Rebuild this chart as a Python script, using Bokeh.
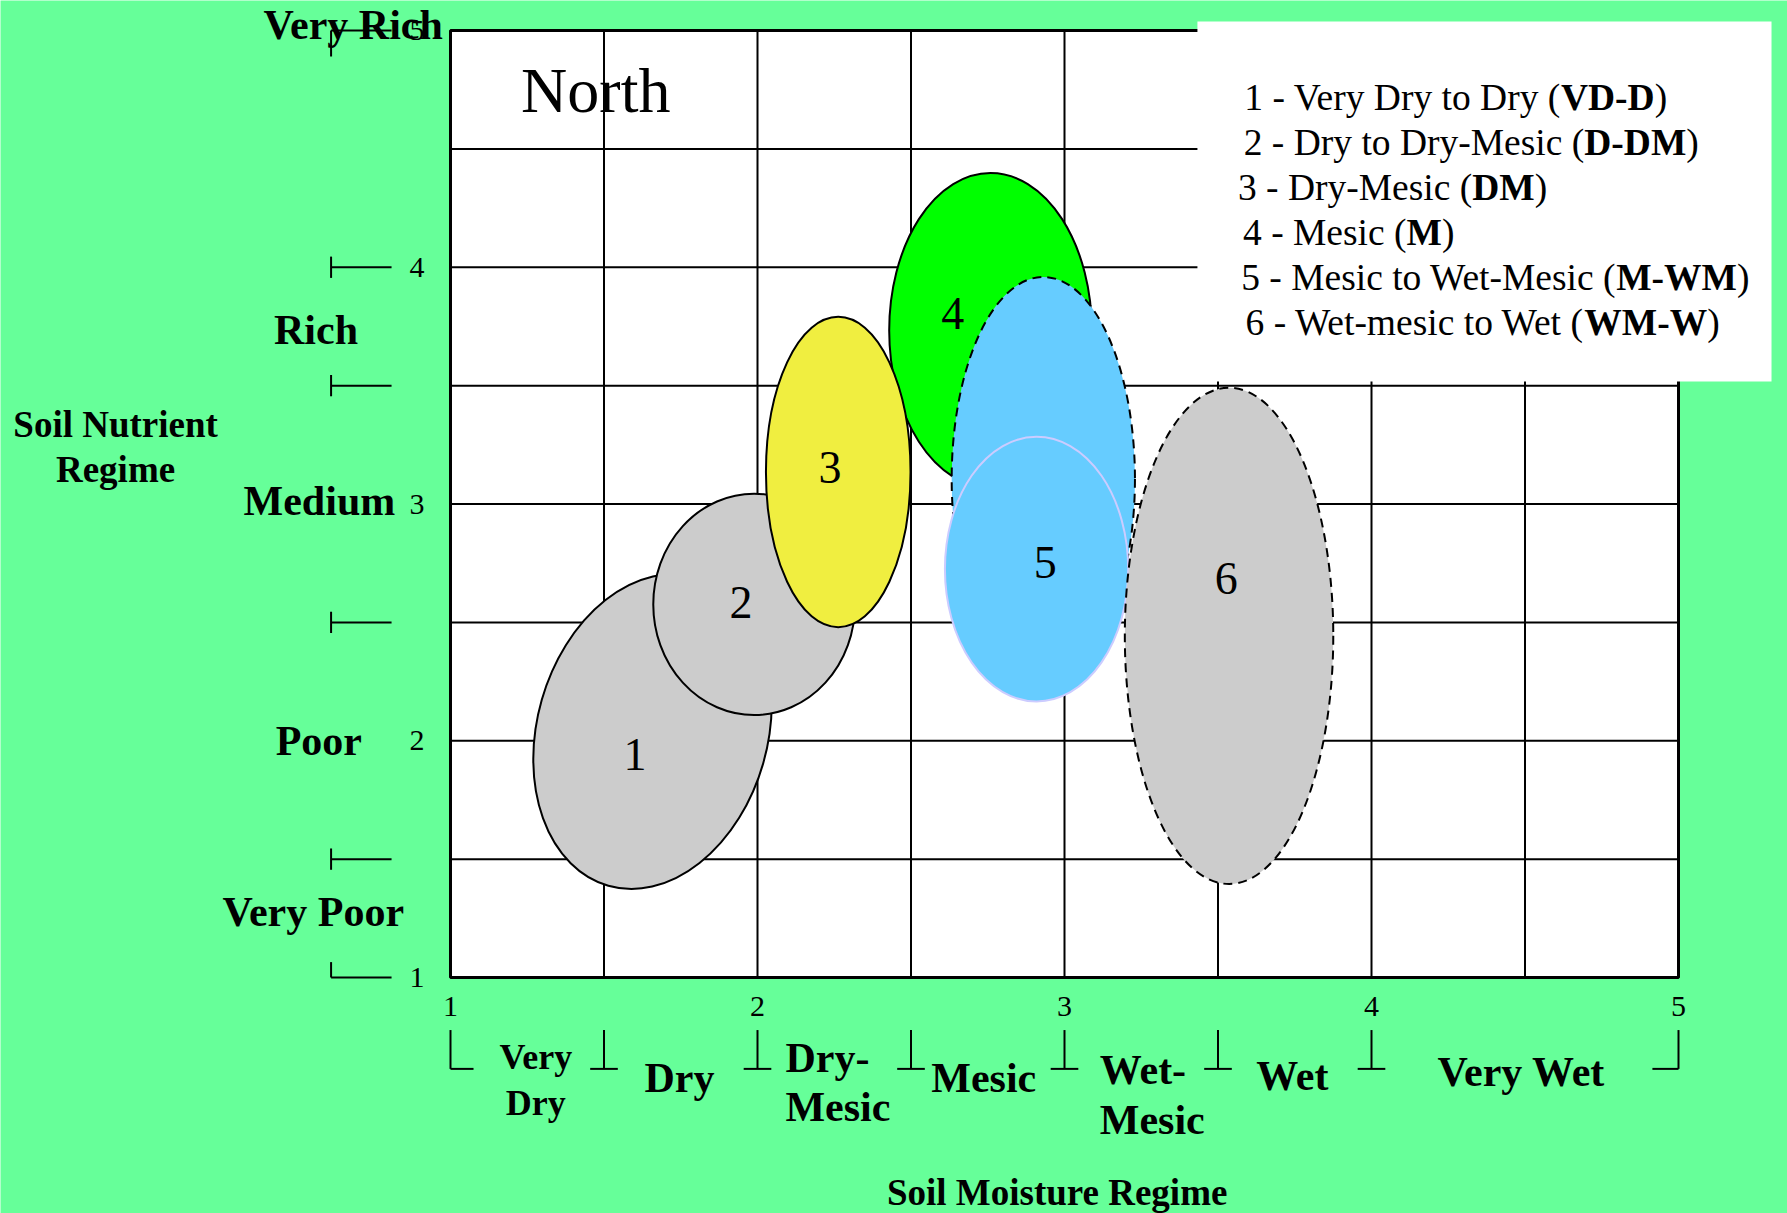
from bokeh.plotting import figure
from bokeh.models import Range1d
from bokeh.core.properties import value
from bokeh.embed import file_html
from bokeh.resources import INLINE

# ---------------- data ----------------
# ecological zones (ellipses): centre, width, height (data units), rotation (deg)
zone_names = ["VD-D", "D-DM", "DM", "M", "M-WM outer", "M-WM", "WM-W"]
zone_x = [1.658, 1.989, 2.263, 2.759, 2.931, 2.909, 3.536]
zone_y = [2.039, 2.576, 3.135, 3.733, 3.106, 2.725, 2.443]
zone_w = [1.045, 0.657, 0.471, 0.660, 0.597, 0.597, 0.679]
zone_h = [0.973, 0.935, 1.311, 1.330, 1.706, 1.118, 2.096]
zone_angle = [74, 0, 0, 0, 0, 0, 0]

# zone number labels
num_text = ["1", "2", "3", "4", "5", "6"]
num_x = [1.601, 1.946, 2.236, 2.636, 2.937, 3.527]
num_y = [1.940, 2.586, 3.154, 3.805, 2.754, 2.687]

# axis ticks and grid
axis_ticks = [1, 2, 3, 4, 5]
grid_ticks = [1.5, 2, 2.5, 3, 3.5, 4, 4.5]

# moisture classes (x) and nutrient classes (y)
moisture_bounds = [1, 1.5, 2, 2.5, 3, 3.5, 4, 5]
moisture_lines = [["Very", "Dry"], ["Dry"], ["Dry-", "Mesic"], ["Mesic"],
                  ["Wet-", "Mesic"], ["Wet"], ["Very Wet"]]
nutrient_bounds = [1, 1.5, 2.5, 3.5, 4, 5]
nutrient_names = ["Very Poor", "Poor", "Medium", "Rich", "Very Rich"]

# legend entries: (normal prefix, bold code)
legend_prefix = ["1 - Very Dry to Dry (", "2 - Dry to Dry-Mesic (", "3 - Dry-Mesic (",
                 "4 - Mesic (", "5 - Mesic to Wet-Mesic (", "6 - Wet-mesic to Wet ("]
legend_code = ["VD-D", "D-DM", "DM", "M", "M-WM", "WM-W"]

# ---------------- layout / styles ----------------
W, H = 1787, 1213
FL, FR, FT, FB = 450, 1678, 30, 977          # pixel box of the 1..5 x 1..5 plot area
SX = (FR - FL) / 4.0
SY = (FB - FT) / 4.0
BG = "#66FF99"
FONT = value("Liberation Serif")
zone_fill = ["#CCCCCC", "#CCCCCC", "#F0EE40", "#00FF00", "#66CCFF", "#66CCFF", "#CCCCCC"]
zone_line = ["black", "black", "black", "black", "black", "#CCCCFF", "black"]
zone_dash = ["solid", "solid", "solid", "solid", "9 6", "solid", "9 6"]
draw_order = [0, 1, 3, 2, 4, 5, 6]

W_BOLD = {'-': 333, 'D': 722, 'M': 944, 'V': 722, 'W': 1000}
LEG_SIZE = 37.5

p = figure(width=W, height=H, output_backend="svg", toolbar_location=None,
           x_range=Range1d(1 - FL / SX, 5 + (W - FR) / SX),
           y_range=Range1d(1 - (H - FB) / SY, 5 + FT / SY),
           x_axis_location=None, y_axis_location=None, min_border=0)
p.background_fill_color = BG
p.border_fill_color = BG
p.outline_line_color = None
p.grid.visible = False

# plot area, grid, border
p.quad(left=[1], right=[5], bottom=[1], top=[5], fill_color="white", line_color=None)
p.segment(x0=grid_ticks, y0=[1] * len(grid_ticks), x1=grid_ticks, y1=[5] * len(grid_ticks),
          line_color="black", line_width=2)
p.segment(x0=[1] * len(grid_ticks), y0=grid_ticks, x1=[5] * len(grid_ticks), y1=grid_ticks,
          line_color="black", line_width=2)
p.quad(left=[1], right=[5], bottom=[1], top=[5], fill_color=None, line_color="black",
       line_width=3)

# ellipses
for i in draw_order:
    p.ellipse(x=[zone_x[i]], y=[zone_y[i]], width=[zone_w[i]], height=[zone_h[i]],
              angle=[zone_angle[i]], angle_units="deg",
              fill_color=zone_fill[i], line_color=zone_line[i], line_width=2,
              line_dash=zone_dash[i])

p.text(x=num_x, y=num_y, text=num_text, text_font=FONT, text_font_size="46px",
       text_align="center", text_baseline="alphabetic", text_color="black")

# legend box and text
p.quad(left=[3.433], right=[5.303], bottom=[3.517], top=[5.038], fill_color="white",
       line_color=None)
leg_join = [4.617, 4.693, 4.328, 4.114, 4.797, 4.693]
leg_y = [4.717, 4.527, 4.337, 4.147, 3.957, 3.767]
code_w = [sum(W_BOLD[c] for c in s) * LEG_SIZE / 1000.0 / SX for s in legend_code]
p.text(x=leg_join, y=leg_y, text=legend_prefix, text_font=FONT,
       text_font_size=f"{LEG_SIZE}px", text_align="right", text_baseline="alphabetic",
       text_color="black")
p.text(x=leg_join, y=leg_y, text=legend_code, text_font=FONT,
       text_font_size=f"{LEG_SIZE}px", text_font_style="bold", text_align="left",
       text_baseline="alphabetic", text_color="black")
p.text(x=[j + w for j, w in zip(leg_join, code_w)], y=leg_y, text=[")"] * len(leg_y),
       text_font=FONT, text_font_size=f"{LEG_SIZE}px", text_align="left",
       text_baseline="alphabetic", text_color="black")

# "North"
p.text(x=[1.230], y=[4.745], text=["North"], text_font=FONT, text_font_size="64px",
       text_align="left", text_baseline="alphabetic", text_color="black")

# numeric tick labels
p.text(x=[0.915] * len(axis_ticks), y=axis_ticks, text=[str(t) for t in axis_ticks],
       text_font=FONT, text_font_size="30px", text_align="right",
       text_baseline="alphabetic", text_color="black")
p.text(x=axis_ticks, y=[0.877] * len(axis_ticks), text=[str(t) for t in axis_ticks],
       text_font=FONT, text_font_size="30px", text_align="center",
       text_baseline="alphabetic", text_color="black")

# bracket marks for class boundaries
x0s, y0s, x1s, y1s = [], [], [], []


def seg(a, b, c, d):
    x0s.append(a); y0s.append(b); x1s.append(c); y1s.append(d)


ya0, ya1 = 0.611, 0.808
for k, b in enumerate(nutrient_bounds):
    seg(ya0, b, ya1, b)
    if k == 0:
        seg(ya0, b, ya0, b + 0.065)
    elif k == len(nutrient_bounds) - 1:
        seg(ya0, b - 0.11, ya0, b)
    else:
        seg(ya0, b - 0.045, ya0, b + 0.045)

xa0, xa1 = 0.614, 0.778
for k, b in enumerate(moisture_bounds):
    seg(b, xa0, b, xa1)
    if k == 0:
        seg(b, xa0, b + 0.075, xa0)
    elif k == len(moisture_bounds) - 1:
        seg(b - 0.085, xa0, b, xa0)
    else:
        seg(b - 0.045, xa0, b + 0.045, xa0)

p.segment(x0=x0s, y0=y0s, x1=x1s, y1=y1s, line_color="black", line_width=2)

# nutrient class labels
nut_x = [0.553, 0.571, 0.573, 0.562, 0.683]
nut_y = [1.275, 1.998, 3.014, 3.733, 5.024]
p.text(x=nut_x, y=nut_y, text=nutrient_names, text_font=FONT, text_font_size="42px",
       text_font_style="bold", text_align="center", text_baseline="alphabetic",
       text_color="black")

# moisture class labels
moist_x = [1.278, 1.746, 2.091, 2.737, 3.115, 3.742, 4.488]
moist_align = ["center", "center", "left", "center", "left", "center", "center"]
moist_y = [[0.663, 0.470], [0.576], [0.658, 0.451], [0.576], [0.610, 0.398], [0.586], [0.600]]
moist_size = ["36px", "42px", "42px", "42px", "42px", "42px", "42px"]
for lines, xx, al, ys, fs in zip(moisture_lines, moist_x, moist_align, moist_y, moist_size):
    p.text(x=[xx] * len(lines), y=ys, text=lines, text_font=FONT, text_font_size=fs,
           text_font_style="bold", text_align=al, text_baseline="alphabetic",
           text_color="black")

# axis titles
p.text(x=[-0.091, -0.091], y=[3.337, 3.145], text=["Soil Nutrient", "Regime"],
       text_font=FONT, text_font_size="37px", text_font_style="bold", text_align="center",
       text_baseline="alphabetic", text_color="black")
p.text(x=[2.976], y=[0.090], text=["Soil Moisture Regime"], text_font=FONT,
       text_font_size="37px", text_font_style="bold", text_align="center",
       text_baseline="alphabetic", text_color="black")

open("out.html", "w").write(file_html(p, INLINE))
